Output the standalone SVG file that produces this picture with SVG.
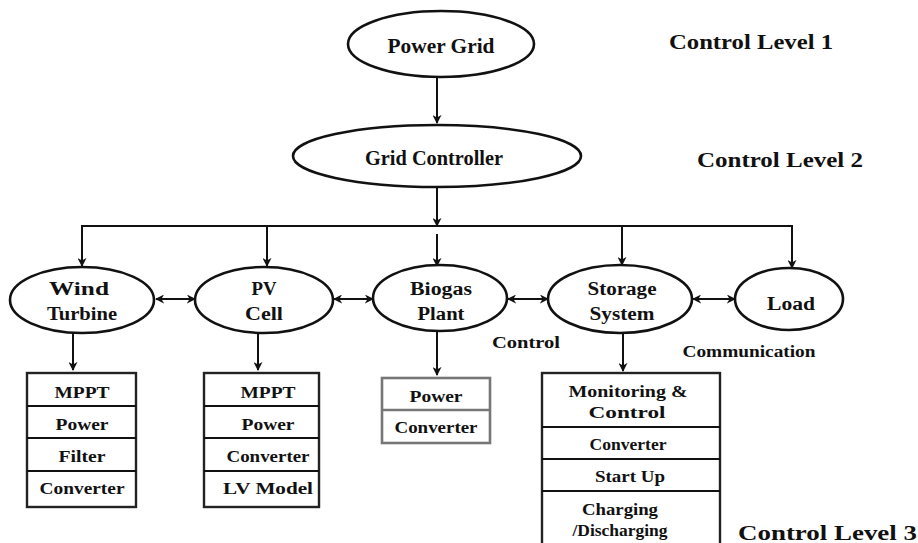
<svg xmlns="http://www.w3.org/2000/svg" width="918" height="543" viewBox="0 0 918 543" font-family="Liberation Serif, Times New Roman, DejaVu Serif, serif" font-weight="bold">
<defs>
<marker id="ah" viewBox="0 0 10 10" refX="9" refY="5" markerWidth="9" markerHeight="9" markerUnits="userSpaceOnUse" orient="auto-start-reverse">
<path d="M0,0 L10,5 L0,10 L3,5 z" fill="#111"/>
</marker>
</defs>
<style>
.el{fill:#fff;stroke:#111;stroke-width:2.6}
.bx{fill:#fff;stroke:#222;stroke-width:2.4}
.gb{fill:#fff;stroke:#777;stroke-width:2.6}
.ln{stroke:#111;stroke-width:2;fill:none}
text{fill:#111}
.t{text-anchor:middle}
.n{font-size:18px}
.b{font-size:16px}
.s{font-size:20px}
.lv{font-size:20px}
</style>
<rect width="918" height="543" fill="#fff"/>

<g id="connectors">
<line class="ln" x1="437" y1="78" x2="437" y2="123" marker-end="url(#ah)"/>
<line class="ln" x1="437" y1="188" x2="437" y2="226" marker-end="url(#ah)"/>
<line class="ln" x1="81" y1="226" x2="793" y2="226"/>
<line class="ln" x1="82" y1="226" x2="82" y2="266" marker-end="url(#ah)"/>
<line class="ln" x1="267" y1="226" x2="267" y2="266" marker-end="url(#ah)"/>
<line class="ln" x1="437" y1="234" x2="437" y2="266" marker-end="url(#ah)"/>
<line class="ln" x1="622" y1="226" x2="622" y2="265" marker-end="url(#ah)"/>
<line class="ln" x1="792" y1="226" x2="792" y2="268" marker-end="url(#ah)"/>
<line class="ln" x1="156" y1="299" x2="195" y2="299" marker-start="url(#ah)" marker-end="url(#ah)"/>
<line class="ln" x1="334" y1="299" x2="373" y2="299" marker-start="url(#ah)" marker-end="url(#ah)"/>
<line class="ln" x1="508" y1="299" x2="548" y2="299" marker-start="url(#ah)" marker-end="url(#ah)"/>
<line class="ln" x1="693" y1="299" x2="735" y2="299" marker-start="url(#ah)" marker-end="url(#ah)"/>
<line class="ln" x1="73" y1="333" x2="73" y2="370" marker-end="url(#ah)"/>
<line class="ln" x1="258" y1="333" x2="258" y2="370" marker-end="url(#ah)"/>
<line class="ln" x1="437" y1="331" x2="437" y2="375" marker-end="url(#ah)"/>
<line class="ln" x1="623" y1="332" x2="623" y2="371" marker-end="url(#ah)"/>
</g>

<g id="power-grid">
<ellipse class="el" cx="441" cy="44" rx="93" ry="33"/>
<text class="t s" x="441" y="53" textLength="107" lengthAdjust="spacingAndGlyphs">Power Grid</text>
</g>

<g id="grid-controller">
<ellipse class="el" cx="437" cy="156" rx="144" ry="31"/>
<text class="t s" x="434" y="165" textLength="138" lengthAdjust="spacingAndGlyphs">Grid Controller</text>
</g>

<g id="wind-turbine">
<ellipse class="el" cx="82" cy="300" rx="72" ry="33"/>
<text class="t n" x="79" y="295" textLength="60" lengthAdjust="spacingAndGlyphs">Wind</text>
<text class="t n" x="82" y="320" textLength="70" lengthAdjust="spacingAndGlyphs">Turbine</text>
</g>

<g id="pv-cell">
<ellipse class="el" cx="264" cy="300" rx="69" ry="33"/>
<text class="t n" x="264" y="295" textLength="25" lengthAdjust="spacingAndGlyphs">PV</text>
<text class="t n" x="264" y="320" textLength="38" lengthAdjust="spacingAndGlyphs">Cell</text>
</g>

<g id="biogas-plant">
<ellipse class="el" cx="440" cy="298" rx="67" ry="33"/>
<text class="t n" x="441" y="295" textLength="62" lengthAdjust="spacingAndGlyphs">Biogas</text>
<text class="t n" x="441" y="320" textLength="47" lengthAdjust="spacingAndGlyphs">Plant</text>
</g>

<g id="storage-system">
<ellipse class="el" cx="620" cy="299" rx="72" ry="34"/>
<text class="t n" x="622" y="295" textLength="69" lengthAdjust="spacingAndGlyphs">Storage</text>
<text class="t n" x="622" y="320" textLength="65" lengthAdjust="spacingAndGlyphs">System</text>
</g>

<g id="load">
<ellipse class="el" cx="789" cy="299" rx="54" ry="31"/>
<text class="t n" x="791" y="310" textLength="48" lengthAdjust="spacingAndGlyphs">Load</text>
</g>

<g id="wind-box">
<rect class="bx" x="27" y="373" width="109" height="134"/>
<line class="ln" x1="27" y1="406" x2="136" y2="406"/>
<line class="ln" x1="27" y1="438" x2="136" y2="438"/>
<line class="ln" x1="27" y1="471" x2="136" y2="471"/>
<text class="t b" x="82" y="398" textLength="55" lengthAdjust="spacingAndGlyphs">MPPT</text>
<text class="t b" x="82" y="430" textLength="53" lengthAdjust="spacingAndGlyphs">Power</text>
<text class="t b" x="82" y="462" textLength="47" lengthAdjust="spacingAndGlyphs">Filter</text>
<text class="t b" x="82" y="494" textLength="85" lengthAdjust="spacingAndGlyphs">Converter</text>
</g>

<g id="pv-box">
<rect class="bx" x="204" y="373" width="115" height="134"/>
<line class="ln" x1="204" y1="406" x2="319" y2="406"/>
<line class="ln" x1="204" y1="438" x2="319" y2="438"/>
<line class="ln" x1="204" y1="471" x2="319" y2="471"/>
<text class="t b" x="268" y="398" textLength="55" lengthAdjust="spacingAndGlyphs">MPPT</text>
<text class="t b" x="268" y="430" textLength="53" lengthAdjust="spacingAndGlyphs">Power</text>
<text class="t b" x="268" y="462" textLength="83" lengthAdjust="spacingAndGlyphs">Converter</text>
<text class="t b" x="268" y="494" textLength="90" lengthAdjust="spacingAndGlyphs">LV  Model</text>
</g>

<g id="biogas-box">
<rect class="gb" x="382" y="378" width="108" height="65"/>
<line x1="382" y1="410" x2="490" y2="410" stroke="#777" stroke-width="2.4"/>
<text class="t b" x="436" y="402" textLength="53" lengthAdjust="spacingAndGlyphs">Power</text>
<text class="t b" x="436" y="433" textLength="83" lengthAdjust="spacingAndGlyphs">Converter</text>
</g>

<g id="storage-box">
<rect class="bx" x="542" y="373" width="178" height="176"/>
<line class="ln" x1="542" y1="427" x2="720" y2="427"/>
<line class="ln" x1="542" y1="459" x2="720" y2="459"/>
<line class="ln" x1="542" y1="491" x2="720" y2="491"/>
<text class="t b" x="628" y="397" textLength="119" lengthAdjust="spacingAndGlyphs">Monitoring &amp;</text>
<text class="t b" x="627" y="418" textLength="77" lengthAdjust="spacingAndGlyphs">Control</text>
<text class="t b" x="628" y="450" textLength="77" lengthAdjust="spacingAndGlyphs">Converter</text>
<text class="t b" x="630" y="482" textLength="70" lengthAdjust="spacingAndGlyphs">Start Up</text>
<text class="t b" x="620" y="515" textLength="76" lengthAdjust="spacingAndGlyphs">Charging</text>
<text class="t b" x="620" y="536" textLength="95" lengthAdjust="spacingAndGlyphs">/Discharging</text>
</g>

<g id="labels">
<text class="t b" x="526" y="348" textLength="68" lengthAdjust="spacingAndGlyphs">Control</text>
<text class="t b" x="749" y="357" textLength="133" lengthAdjust="spacingAndGlyphs">Communication</text>
<text class="lv" x="669" y="49" textLength="164" lengthAdjust="spacingAndGlyphs">Control Level  1</text>
<text class="lv" x="697" y="167" textLength="166" lengthAdjust="spacingAndGlyphs">Control Level 2</text>
<text class="lv" x="738" y="540" textLength="179" lengthAdjust="spacingAndGlyphs">Control Level 3</text>
</g>
</svg>
